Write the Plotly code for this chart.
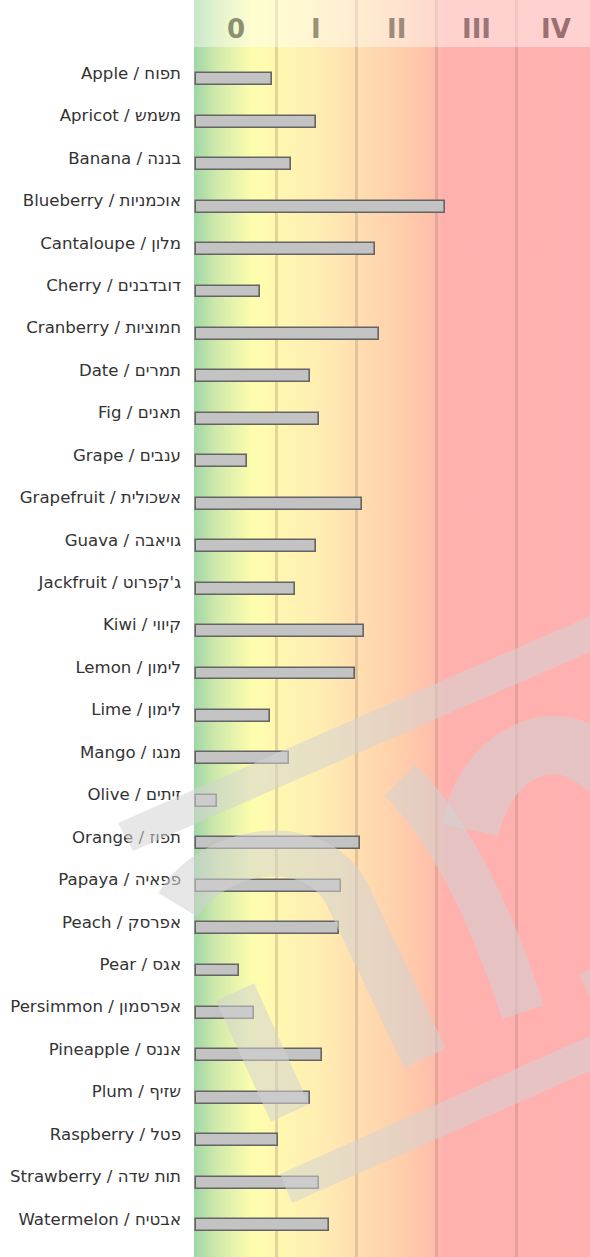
import base64
import plotly.graph_objects as go

# ---------------- data ----------------
categories = [
    "Apple / תפוח", "Apricot / משמש", "Banana / בננה", "Blueberry / אוכמניות",
    "Cantaloupe / מלון", "Cherry / דובדבנים", "Cranberry / חמוציות", "Date / תמרים",
    "Fig / תאנים", "Grape / ענבים", "Grapefruit / אשכולית", "Guava / גויאבה",
    "Jackfruit / ג'קפרוט", "Kiwi / קיווי", "Lemon / לימון", "Lime / לימון",
    "Mango / מנגו", "Olive / זיתים", "Orange / תפוז", "Papaya / פפאיה",
    "Peach / אפרסק", "Pear / אגס", "Persimmon / אפרסמון", "Pineapple / אננס",
    "Plum / שזיף", "Raspberry / פטל", "Strawberry / תות שדה", "Watermelon / אבטיח",
]
values = [
    0.95, 1.50, 1.19, 3.11,
    2.24, 0.80, 2.29, 1.43,
    1.54, 0.64, 2.08, 1.50,
    1.24, 2.10, 1.99, 0.93,
    1.16, 0.26, 2.05, 1.81,
    1.79, 0.54, 0.73, 1.58,
    1.43, 1.03, 1.54, 1.66,
]
tick_positions = [0.5, 1.5, 2.5, 3.5, 4.5]
tick_labels = ["0", "I", "II", "III", "IV"]
tick_colors = ["#8b9073", "#999276", "#9c8a7b", "#9a7777", "#9a7070"]
grid_positions = [1, 2, 3, 4]

# ---------------- figure geometry ----------------
W, H = 590, 1257
ML = 194
X_RANGE = [-0.025, 4.925]
Y_RANGE = [27.9, -1.72]

fig = go.Figure()
fig.add_trace(go.Bar(
    y=categories, x=values, orientation="h",
    width=0.28, offset=0.01,
    marker=dict(color="#c3c3c3", line=dict(color="#646464", width=1.6)),
    hoverinfo="x+y",
))

# gradient background (SVG data-URI image)
x0, x1 = X_RANGE
def off(v):
    return (v - x0) / (x1 - x0)
stops = [
    (-0.025, "#9fd6a6"), (0.25, "#cfe9ab"), (0.70, "#fdfdad"), (0.95, "#fff9b0"),
    (1.5, "#ffeeb2"), (2.0, "#ffdfb0"), (2.5, "#ffd0ac"), (2.95, "#ffbfaa"),
    (3.1, "#ffb1ae"), (4.925, "#ffb0b0"),
]
stop_xml = "".join(
    f'<stop offset="{max(0, min(1, off(v))):.4f}" stop-color="{c}"/>' for v, c in stops
)
svg = (
    '<svg xmlns="http://www.w3.org/2000/svg" width="400" height="100" '
    'preserveAspectRatio="none" viewBox="0 0 400 100">'
    f'<defs><linearGradient id="g" x1="0" y1="0" x2="1" y2="0">{stop_xml}</linearGradient></defs>'
    '<rect x="0" y="0" width="400" height="100" fill="url(#g)"/></svg>'
)
src = "data:image/svg+xml;base64," + base64.b64encode(svg.encode()).decode()
fig.add_layout_image(dict(
    source=src, xref="paper", yref="paper", x=0, y=1, sizex=1, sizey=1,
    xanchor="left", yanchor="top", sizing="stretch", layer="below",
))

# ---------------- decoration helpers (pixel -> paper) ----------------
PW = W - ML
def px(x):
    return (x - ML) / PW
def py(y):
    return 1 - y / H

# light band at the top behind the numerals
fig.add_shape(type="rect", xref="paper", yref="paper", x0=0, x1=1,
              y0=py(47), y1=1, fillcolor="rgba(255,255,255,0.42)",
              line=dict(width=0), layer="above")

# watermark (semi-transparent grey strokes)
WM_COLOR = "#d3d3d3"
WM_OPACITY = 0.55

def poly(pts):
    s = "M " + " L ".join(f"{px(a):.4f},{py(b):.4f}" for a, b in pts) + " Z"
    fig.add_shape(type="path", xref="paper", yref="paper", path=s,
                  fillcolor=WM_COLOR, opacity=WM_OPACITY, line=dict(width=0),
                  layer="above")

def stroke(cmds, width):
    parts = []
    for c in cmds:
        letter, pts = c[0], c[1:]
        parts.append(letter + " " + " ".join(f"{px(a):.4f},{py(b):.4f}" for a, b in pts))
    fig.add_shape(type="path", xref="paper", yref="paper", path=" ".join(parts),
                  fillcolor="rgba(0,0,0,0)", opacity=WM_OPACITY,
                  line=dict(color=WM_COLOR, width=width), layer="above")

poly([(118, 823), (590, 616), (590, 652), (133, 851)])
poly([(280, 1174), (590, 1036), (590, 1071), (292, 1203)])
stroke([("M", (178, 905)), ("C", (215, 845), (320, 830), (350, 900)), ("L", (425, 1058))], 46)
stroke([("M", (400, 780)), ("Q", (470, 850), (523, 1012))], 44)
stroke([("M", (470, 830)), ("C", (485, 760), (535, 742), (560, 745)),
        ("C", (580, 748), (595, 758), (615, 776))], 58)
stroke([("M", (235, 992)), ("L", (290, 1113))], 42)
stroke([("M", (585, 986)), ("L", (640, 960))], 26)

# numerals at the top
for pos, lab, col in zip(tick_positions, tick_labels, tick_colors):
    fig.add_annotation(
        x=pos, y=py(29), xref="x", yref="paper", text=lab, showarrow=False,
        xanchor="center", yanchor="middle",
        font=dict(family="DejaVu Sans", size=26, color=col, weight="bold"),
    )

fig.update_layout(
    width=W, height=H,
    margin=dict(l=ML, r=0, t=0, b=0),
    paper_bgcolor="white", plot_bgcolor="rgba(0,0,0,0)",
    showlegend=False, bargap=0,
    font=dict(family="DejaVu Sans", size=16.6, color="#333333"),
)
fig.update_xaxes(
    range=X_RANGE, tickvals=grid_positions, showticklabels=False, ticks="",
    showgrid=True, gridcolor="rgba(165,125,105,0.3)", gridwidth=3,
    zeroline=False, showline=False, fixedrange=True,
)
fig.update_yaxes(
    range=Y_RANGE, type="category", categoryorder="array", categoryarray=categories,
    showgrid=False, zeroline=False, showline=False, ticks="",
    ticklabelstandoff=12, fixedrange=True,
    tickfont=dict(family="DejaVu Sans", size=16.6, color="#333333"),
)

fig.write_html(
    "out.html",
    config={"displayModeBar": False},
    post_script="document.body.style.margin='0';document.body.style.overflow='hidden';",
)
